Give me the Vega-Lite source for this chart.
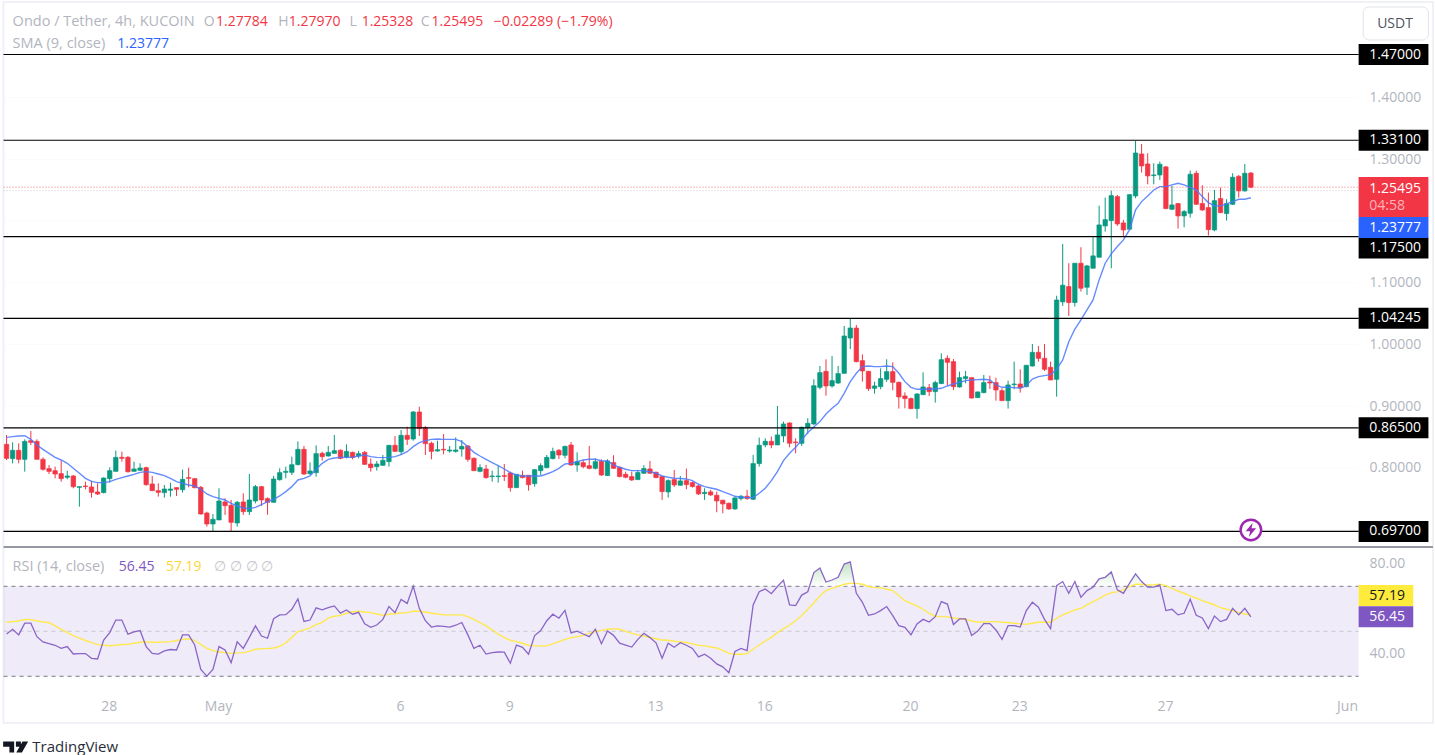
{"$schema":"https://vega.github.io/schema/vega-lite/v6.json","width":1435,"height":755,"padding":0,"autosize":"none","background":"white","config":{"view":{"stroke":null},"text":{"font":"Open Sans","fontSize":14}},
"datasets":{"candles":[
{"t":"2024-04-25T04:00Z","o":0.8382,"h":0.8533,"l":0.8128,"c":0.8155,"s":0.8495,"r":48.8,"m":54.0},
{"t":"2024-04-25T08:00Z","o":0.8150,"h":0.8414,"l":0.8074,"c":0.8285,"s":0.8506,"r":50.9,"m":54.3},
{"t":"2024-04-25T12:00Z","o":0.8285,"h":0.8398,"l":0.8074,"c":0.8139,"s":0.8517,"r":48.4,"m":54.6},
{"t":"2024-04-25T16:00Z","o":0.8139,"h":0.8463,"l":0.7939,"c":0.8430,"s":0.8522,"r":53.6,"m":55.3},
{"t":"2024-04-25T20:00Z","o":0.8441,"h":0.8598,"l":0.8371,"c":0.8414,"s":0.8463,"r":53.6,"m":55.2},
{"t":"2024-04-26T00:00Z","o":0.8430,"h":0.8463,"l":0.8139,"c":0.8139,"s":0.8371,"r":47.6,"m":54.7},
{"t":"2024-04-26T04:00Z","o":0.8139,"h":0.8171,"l":0.7955,"c":0.7977,"s":0.8301,"r":45.3,"m":54.1},
{"t":"2024-04-26T08:00Z","o":0.7988,"h":0.8047,"l":0.7901,"c":0.7944,"s":0.8236,"r":44.5,"m":53.9},
{"t":"2024-04-26T12:00Z","o":0.7955,"h":0.8020,"l":0.7831,"c":0.7901,"s":0.8171,"r":43.8,"m":52.4},
{"t":"2024-04-26T16:00Z","o":0.7907,"h":0.8117,"l":0.7777,"c":0.7826,"s":0.8128,"r":42.4,"m":50.9},
{"t":"2024-04-26T20:00Z","o":0.7847,"h":0.7955,"l":0.7815,"c":0.7869,"s":0.8074,"r":43.2,"m":49.4},
{"t":"2024-04-27T00:00Z","o":0.7869,"h":0.7885,"l":0.7669,"c":0.7696,"s":0.7993,"r":39.9,"m":48.1},
{"t":"2024-04-27T04:00Z","o":0.7685,"h":0.7696,"l":0.7372,"c":0.7696,"s":0.7912,"r":40.1,"m":47.0},
{"t":"2024-04-27T08:00Z","o":0.7707,"h":0.7777,"l":0.7653,"c":0.7696,"s":0.7831,"r":40.1,"m":45.9},
{"t":"2024-04-27T12:00Z","o":0.7691,"h":0.7793,"l":0.7518,"c":0.7604,"s":0.7782,"r":38.0,"m":45.0},
{"t":"2024-04-27T16:00Z","o":0.7610,"h":0.7750,"l":0.7561,"c":0.7577,"s":0.7761,"r":37.7,"m":44.1},
{"t":"2024-04-27T20:00Z","o":0.7599,"h":0.7847,"l":0.7588,"c":0.7836,"s":0.7761,"r":46.1,"m":43.8},
{"t":"2024-04-28T00:00Z","o":0.7826,"h":0.8009,"l":0.7761,"c":0.7955,"s":0.7777,"r":49.4,"m":43.6},
{"t":"2024-04-28T04:00Z","o":0.7944,"h":0.8279,"l":0.7944,"c":0.8171,"s":0.7815,"r":55.0,"m":43.8},
{"t":"2024-04-28T08:00Z","o":0.8171,"h":0.8263,"l":0.8101,"c":0.8155,"s":0.7842,"r":55.0,"m":44.1},
{"t":"2024-04-28T12:00Z","o":0.8171,"h":0.8193,"l":0.7923,"c":0.7939,"s":0.7869,"r":48.7,"m":44.2},
{"t":"2024-04-28T16:00Z","o":0.7944,"h":0.8101,"l":0.7944,"c":0.7982,"s":0.7896,"r":49.7,"m":44.7},
{"t":"2024-04-28T20:00Z","o":0.7961,"h":0.8074,"l":0.7955,"c":0.7998,"s":0.7928,"r":50.3,"m":45.1},
{"t":"2024-04-29T00:00Z","o":0.8004,"h":0.8020,"l":0.7712,"c":0.7728,"s":0.7939,"r":43.2,"m":45.3},
{"t":"2024-04-29T04:00Z","o":0.7739,"h":0.7869,"l":0.7631,"c":0.7631,"s":0.7928,"r":40.2,"m":45.1},
{"t":"2024-04-29T08:00Z","o":0.7631,"h":0.7750,"l":0.7534,"c":0.7604,"s":0.7901,"r":39.9,"m":45.1},
{"t":"2024-04-29T12:00Z","o":0.7599,"h":0.7723,"l":0.7518,"c":0.7658,"s":0.7874,"r":41.3,"m":45.3},
{"t":"2024-04-29T16:00Z","o":0.7637,"h":0.7761,"l":0.7534,"c":0.7658,"s":0.7831,"r":41.9,"m":45.4},
{"t":"2024-04-29T20:00Z","o":0.7680,"h":0.7685,"l":0.7545,"c":0.7653,"s":0.7777,"r":41.7,"m":45.9},
{"t":"2024-04-30T00:00Z","o":0.7647,"h":0.7971,"l":0.7599,"c":0.7815,"s":0.7750,"r":48.4,"m":46.4},
{"t":"2024-04-30T04:00Z","o":0.7842,"h":0.8004,"l":0.7685,"c":0.7831,"s":0.7723,"r":48.4,"m":46.7},
{"t":"2024-04-30T08:00Z","o":0.7826,"h":0.7831,"l":0.7669,"c":0.7680,"s":0.7707,"r":43.9,"m":45.9},
{"t":"2024-04-30T12:00Z","o":0.7685,"h":0.7707,"l":0.7242,"c":0.7253,"s":0.7653,"r":33.1,"m":44.2},
{"t":"2024-04-30T16:00Z","o":0.7269,"h":0.7291,"l":0.7048,"c":0.7091,"s":0.7577,"r":30.1,"m":42.4},
{"t":"2024-04-30T20:00Z","o":0.7091,"h":0.7253,"l":0.6967,"c":0.7167,"s":0.7534,"r":33.1,"m":41.4},
{"t":"2024-05-01T00:00Z","o":0.7156,"h":0.7669,"l":0.7156,"c":0.7464,"s":0.7507,"r":43.2,"m":40.8},
{"t":"2024-05-01T04:00Z","o":0.7448,"h":0.7507,"l":0.7237,"c":0.7388,"s":0.7480,"r":41.7,"m":40.5},
{"t":"2024-05-01T08:00Z","o":0.7394,"h":0.7480,"l":0.6967,"c":0.7118,"s":0.7426,"r":36.1,"m":40.2},
{"t":"2024-05-01T12:00Z","o":0.7107,"h":0.7464,"l":0.7048,"c":0.7442,"s":0.7383,"r":45.3,"m":40.4},
{"t":"2024-05-01T16:00Z","o":0.7448,"h":0.7588,"l":0.7237,"c":0.7291,"s":0.7350,"r":42.4,"m":40.5},
{"t":"2024-05-01T20:00Z","o":0.7291,"h":0.7901,"l":0.7237,"c":0.7480,"s":0.7340,"r":47.3,"m":41.1},
{"t":"2024-05-02T00:00Z","o":0.7464,"h":0.7723,"l":0.7426,"c":0.7696,"s":0.7361,"r":52.4,"m":42.0},
{"t":"2024-05-02T04:00Z","o":0.7696,"h":0.7707,"l":0.7383,"c":0.7480,"s":0.7404,"r":47.9,"m":42.3},
{"t":"2024-05-02T08:00Z","o":0.7502,"h":0.7523,"l":0.7240,"c":0.7442,"s":0.7453,"r":46.9,"m":42.3},
{"t":"2024-05-02T12:00Z","o":0.7442,"h":0.7869,"l":0.7442,"c":0.7820,"s":0.7491,"r":55.6,"m":42.6},
{"t":"2024-05-02T16:00Z","o":0.7809,"h":0.7993,"l":0.7793,"c":0.7923,"s":0.7545,"r":57.3,"m":43.3},
{"t":"2024-05-02T20:00Z","o":0.7928,"h":0.8020,"l":0.7831,"c":0.7944,"s":0.7615,"r":57.4,"m":44.8},
{"t":"2024-05-03T00:00Z","o":0.7928,"h":0.8182,"l":0.7885,"c":0.8052,"s":0.7696,"r":59.8,"m":47.3},
{"t":"2024-05-03T04:00Z","o":0.8052,"h":0.8430,"l":0.8042,"c":0.8301,"s":0.7804,"r":64.4,"m":49.9},
{"t":"2024-05-03T08:00Z","o":0.8301,"h":0.8355,"l":0.7885,"c":0.7901,"s":0.7831,"r":54.4,"m":50.6},
{"t":"2024-05-03T12:00Z","o":0.7907,"h":0.8090,"l":0.7885,"c":0.7950,"s":0.7869,"r":55.0,"m":51.5},
{"t":"2024-05-03T16:00Z","o":0.7923,"h":0.8366,"l":0.7858,"c":0.8231,"s":0.7977,"r":60.4,"m":53.0},
{"t":"2024-05-03T20:00Z","o":0.8236,"h":0.8263,"l":0.8117,"c":0.8182,"s":0.8074,"r":59.5,"m":54.0},
{"t":"2024-05-04T00:00Z","o":0.8193,"h":0.8355,"l":0.8182,"c":0.8252,"s":0.8139,"r":60.5,"m":55.9},
{"t":"2024-05-04T04:00Z","o":0.8236,"h":0.8533,"l":0.8236,"c":0.8279,"s":0.8160,"r":61.3,"m":56.7},
{"t":"2024-05-04T08:00Z","o":0.8285,"h":0.8301,"l":0.8139,"c":0.8155,"s":0.8171,"r":58.1,"m":57.1},
{"t":"2024-05-04T12:00Z","o":0.8177,"h":0.8382,"l":0.8155,"c":0.8268,"s":0.8171,"r":59.5,"m":58.0},
{"t":"2024-05-04T16:00Z","o":0.8252,"h":0.8263,"l":0.8139,"c":0.8171,"s":0.8171,"r":57.6,"m":58.6},
{"t":"2024-05-04T20:00Z","o":0.8193,"h":0.8274,"l":0.8155,"c":0.8231,"s":0.8193,"r":58.4,"m":58.9},
{"t":"2024-05-05T00:00Z","o":0.8252,"h":0.8274,"l":0.8047,"c":0.8058,"s":0.8209,"r":53.3,"m":58.6},
{"t":"2024-05-05T04:00Z","o":0.8063,"h":0.8155,"l":0.7939,"c":0.8004,"s":0.8182,"r":51.8,"m":58.3},
{"t":"2024-05-05T08:00Z","o":0.8020,"h":0.8112,"l":0.7955,"c":0.8063,"s":0.8171,"r":52.8,"m":57.7},
{"t":"2024-05-05T12:00Z","o":0.8042,"h":0.8209,"l":0.8031,"c":0.8123,"s":0.8166,"r":55.3,"m":57.1},
{"t":"2024-05-05T16:00Z","o":0.8101,"h":0.8371,"l":0.8020,"c":0.8366,"s":0.8171,"r":61.0,"m":57.6},
{"t":"2024-05-05T20:00Z","o":0.8366,"h":0.8517,"l":0.8263,"c":0.8268,"s":0.8182,"r":58.3,"m":57.9},
{"t":"2024-05-06T00:00Z","o":0.8263,"h":0.8614,"l":0.8209,"c":0.8528,"s":0.8214,"r":64.2,"m":58.1},
{"t":"2024-05-06T04:00Z","o":0.8528,"h":0.8668,"l":0.8371,"c":0.8463,"s":0.8263,"r":62.4,"m":58.3},
{"t":"2024-05-06T08:00Z","o":0.8468,"h":0.8922,"l":0.8441,"c":0.8906,"s":0.8344,"r":70.1,"m":58.9},
{"t":"2024-05-06T12:00Z","o":0.8906,"h":0.8992,"l":0.8517,"c":0.8636,"s":0.8409,"r":60.2,"m":58.9},
{"t":"2024-05-06T16:00Z","o":0.8652,"h":0.8679,"l":0.8209,"c":0.8393,"s":0.8441,"r":54.7,"m":58.6},
{"t":"2024-05-06T20:00Z","o":0.8398,"h":0.8425,"l":0.8139,"c":0.8268,"s":0.8463,"r":51.9,"m":58.0},
{"t":"2024-05-07T00:00Z","o":0.8274,"h":0.8441,"l":0.8263,"c":0.8295,"s":0.8468,"r":52.4,"m":57.7},
{"t":"2024-05-07T04:00Z","o":0.8301,"h":0.8549,"l":0.8220,"c":0.8290,"s":0.8463,"r":52.2,"m":57.3},
{"t":"2024-05-07T08:00Z","o":0.8274,"h":0.8355,"l":0.8247,"c":0.8290,"s":0.8463,"r":51.9,"m":57.3},
{"t":"2024-05-07T12:00Z","o":0.8268,"h":0.8495,"l":0.8247,"c":0.8290,"s":0.8463,"r":52.7,"m":57.3},
{"t":"2024-05-07T16:00Z","o":0.8306,"h":0.8452,"l":0.8182,"c":0.8349,"s":0.8425,"r":53.9,"m":57.3},
{"t":"2024-05-07T20:00Z","o":0.8355,"h":0.8371,"l":0.8101,"c":0.8139,"s":0.8344,"r":48.4,"m":56.5},
{"t":"2024-05-08T00:00Z","o":0.8155,"h":0.8171,"l":0.7950,"c":0.7955,"s":0.8252,"r":42.4,"m":55.3},
{"t":"2024-05-08T04:00Z","o":0.7944,"h":0.8058,"l":0.7928,"c":0.8004,"s":0.8193,"r":43.8,"m":53.9},
{"t":"2024-05-08T08:00Z","o":0.7982,"h":0.8047,"l":0.7826,"c":0.7842,"s":0.8139,"r":39.9,"m":52.4},
{"t":"2024-05-08T12:00Z","o":0.7858,"h":0.7955,"l":0.7777,"c":0.7869,"s":0.8085,"r":40.5,"m":50.6},
{"t":"2024-05-08T16:00Z","o":0.7858,"h":0.8036,"l":0.7761,"c":0.7869,"s":0.8036,"r":40.8,"m":48.7},
{"t":"2024-05-08T20:00Z","o":0.7874,"h":0.8063,"l":0.7788,"c":0.7863,"s":0.7982,"r":40.7,"m":47.2},
{"t":"2024-05-09T00:00Z","o":0.7917,"h":0.7939,"l":0.7615,"c":0.7680,"s":0.7923,"r":35.8,"m":46.0},
{"t":"2024-05-09T04:00Z","o":0.7680,"h":0.7901,"l":0.7680,"c":0.7896,"s":0.7885,"r":43.9,"m":45.4},
{"t":"2024-05-09T08:00Z","o":0.7880,"h":0.7955,"l":0.7831,"c":0.7842,"s":0.7869,"r":42.9,"m":44.7},
{"t":"2024-05-09T12:00Z","o":0.7880,"h":0.7885,"l":0.7631,"c":0.7728,"s":0.7869,"r":39.8,"m":43.8},
{"t":"2024-05-09T16:00Z","o":0.7745,"h":0.7982,"l":0.7696,"c":0.7971,"s":0.7869,"r":48.1,"m":43.5},
{"t":"2024-05-09T20:00Z","o":0.7955,"h":0.8074,"l":0.7885,"c":0.8036,"s":0.7869,"r":50.3,"m":43.5},
{"t":"2024-05-10T00:00Z","o":0.8004,"h":0.8209,"l":0.7993,"c":0.8171,"s":0.7901,"r":54.7,"m":43.5},
{"t":"2024-05-10T04:00Z","o":0.8150,"h":0.8328,"l":0.8139,"c":0.8268,"s":0.7939,"r":57.6,"m":44.4},
{"t":"2024-05-10T08:00Z","o":0.8285,"h":0.8306,"l":0.8144,"c":0.8209,"s":0.7993,"r":55.8,"m":45.4},
{"t":"2024-05-10T12:00Z","o":0.8204,"h":0.8360,"l":0.8155,"c":0.8349,"s":0.8063,"r":59.3,"m":46.4},
{"t":"2024-05-10T16:00Z","o":0.8371,"h":0.8420,"l":0.8036,"c":0.8047,"s":0.8074,"r":49.3,"m":47.2},
{"t":"2024-05-10T20:00Z","o":0.8047,"h":0.8252,"l":0.7939,"c":0.8101,"s":0.8101,"r":50.1,"m":47.6},
{"t":"2024-05-11T00:00Z","o":0.8085,"h":0.8128,"l":0.7993,"c":0.8020,"s":0.8128,"r":48.8,"m":48.2},
{"t":"2024-05-11T04:00Z","o":0.8036,"h":0.8355,"l":0.7977,"c":0.7993,"s":0.8139,"r":47.6,"m":49.1},
{"t":"2024-05-11T08:00Z","o":0.7993,"h":0.8155,"l":0.7977,"c":0.8101,"s":0.8139,"r":50.9,"m":49.9},
{"t":"2024-05-11T12:00Z","o":0.8106,"h":0.8139,"l":0.7869,"c":0.7885,"s":0.8117,"r":44.5,"m":50.4},
{"t":"2024-05-11T16:00Z","o":0.7875,"h":0.8140,"l":0.7870,"c":0.8113,"s":0.8113,"r":50.1,"m":50.9},
{"t":"2024-05-11T20:00Z","o":0.8086,"h":0.8205,"l":0.7983,"c":0.7994,"s":0.8048,"r":48.2,"m":51.2},
{"t":"2024-05-12T00:00Z","o":0.8010,"h":0.8021,"l":0.7848,"c":0.7859,"s":0.8010,"r":44.7,"m":50.9},
{"t":"2024-05-12T04:00Z","o":0.7897,"h":0.7940,"l":0.7832,"c":0.7848,"s":0.7978,"r":43.9,"m":50.0},
{"t":"2024-05-12T08:00Z","o":0.7859,"h":0.7940,"l":0.7789,"c":0.7805,"s":0.7956,"r":43.0,"m":49.1},
{"t":"2024-05-12T12:00Z","o":0.7810,"h":0.7967,"l":0.7805,"c":0.7924,"s":0.7956,"r":46.4,"m":48.4},
{"t":"2024-05-12T16:00Z","o":0.7913,"h":0.8043,"l":0.7902,"c":0.7989,"s":0.7951,"r":49.1,"m":47.9},
{"t":"2024-05-12T20:00Z","o":0.7983,"h":0.8113,"l":0.7902,"c":0.7913,"s":0.7940,"r":47.2,"m":47.3},
{"t":"2024-05-13T00:00Z","o":0.7929,"h":0.7940,"l":0.7832,"c":0.7843,"s":0.7913,"r":44.9,"m":46.7},
{"t":"2024-05-13T04:00Z","o":0.7859,"h":0.7870,"l":0.7481,"c":0.7616,"s":0.7870,"r":38.0,"m":46.1},
{"t":"2024-05-13T08:00Z","o":0.7611,"h":0.7816,"l":0.7519,"c":0.7794,"s":0.7848,"r":44.7,"m":46.0},
{"t":"2024-05-13T12:00Z","o":0.7810,"h":0.7967,"l":0.7692,"c":0.7724,"s":0.7832,"r":42.9,"m":45.6},
{"t":"2024-05-13T16:00Z","o":0.7719,"h":0.7870,"l":0.7713,"c":0.7789,"s":0.7827,"r":44.9,"m":45.3},
{"t":"2024-05-13T20:00Z","o":0.7794,"h":0.7989,"l":0.7654,"c":0.7729,"s":0.7821,"r":43.8,"m":45.0},
{"t":"2024-05-14T00:00Z","o":0.7762,"h":0.7778,"l":0.7681,"c":0.7697,"s":0.7794,"r":42.4,"m":44.4},
{"t":"2024-05-14T04:00Z","o":0.7708,"h":0.7724,"l":0.7562,"c":0.7578,"s":0.7735,"r":38.6,"m":43.8},
{"t":"2024-05-14T08:00Z","o":0.7584,"h":0.7670,"l":0.7481,"c":0.7605,"s":0.7697,"r":39.8,"m":43.5},
{"t":"2024-05-14T12:00Z","o":0.7611,"h":0.7643,"l":0.7546,"c":0.7562,"s":0.7675,"r":38.0,"m":43.0},
{"t":"2024-05-14T16:00Z","o":0.7557,"h":0.7616,"l":0.7281,"c":0.7465,"s":0.7654,"r":35.5,"m":42.6},
{"t":"2024-05-14T20:00Z","o":0.7476,"h":0.7481,"l":0.7265,"c":0.7416,"s":0.7616,"r":34.2,"m":41.5},
{"t":"2024-05-15T00:00Z","o":0.7427,"h":0.7438,"l":0.7319,"c":0.7335,"s":0.7578,"r":31.6,"m":40.2},
{"t":"2024-05-15T04:00Z","o":0.7335,"h":0.7535,"l":0.7319,"c":0.7513,"s":0.7540,"r":41.0,"m":39.8},
{"t":"2024-05-15T08:00Z","o":0.7503,"h":0.7562,"l":0.7470,"c":0.7540,"s":0.7524,"r":42.4,"m":39.8},
{"t":"2024-05-15T12:00Z","o":0.7540,"h":0.7643,"l":0.7481,"c":0.7503,"s":0.7519,"r":41.4,"m":40.1},
{"t":"2024-05-15T16:00Z","o":0.7492,"h":0.8210,"l":0.7481,"c":0.8070,"s":0.7519,"r":61.7,"m":42.0},
{"t":"2024-05-15T20:00Z","o":0.8070,"h":0.8491,"l":0.8021,"c":0.8367,"s":0.7589,"r":67.6,"m":43.9},
{"t":"2024-05-16T00:00Z","o":0.8372,"h":0.8480,"l":0.8334,"c":0.8431,"s":0.7670,"r":68.8,"m":45.7},
{"t":"2024-05-16T04:00Z","o":0.8431,"h":0.8507,"l":0.8318,"c":0.8372,"s":0.7794,"r":66.7,"m":47.3},
{"t":"2024-05-16T08:00Z","o":0.8372,"h":0.9004,"l":0.8372,"c":0.8534,"s":0.7940,"r":69.9,"m":49.4},
{"t":"2024-05-16T12:00Z","o":0.8518,"h":0.8750,"l":0.8415,"c":0.8712,"s":0.8118,"r":72.7,"m":51.2},
{"t":"2024-05-16T16:00Z","o":0.8728,"h":0.8739,"l":0.8334,"c":0.8399,"s":0.8237,"r":61.7,"m":52.8},
{"t":"2024-05-16T20:00Z","o":0.8421,"h":0.8480,"l":0.8237,"c":0.8410,"s":0.8334,"r":61.4,"m":54.7},
{"t":"2024-05-17T00:00Z","o":0.8399,"h":0.8669,"l":0.8356,"c":0.8658,"s":0.8453,"r":66.1,"m":57.0},
{"t":"2024-05-17T04:00Z","o":0.8653,"h":0.8804,"l":0.8550,"c":0.8723,"s":0.8572,"r":67.6,"m":59.8},
{"t":"2024-05-17T08:00Z","o":0.8712,"h":0.9436,"l":0.8695,"c":0.9332,"s":0.8663,"r":76.1,"m":62.7},
{"t":"2024-05-17T12:00Z","o":0.9306,"h":0.9652,"l":0.9274,"c":0.9544,"s":0.8750,"r":78.1,"m":65.7},
{"t":"2024-05-17T16:00Z","o":0.9565,"h":0.9760,"l":0.9171,"c":0.9328,"s":0.8874,"r":71.9,"m":68.1},
{"t":"2024-05-17T20:00Z","o":0.9328,"h":0.9814,"l":0.9301,"c":0.9414,"s":0.8966,"r":72.8,"m":69.1},
{"t":"2024-05-18T00:00Z","o":0.9376,"h":0.9652,"l":0.9360,"c":0.9528,"s":0.9047,"r":74.0,"m":70.0},
{"t":"2024-05-18T04:00Z","o":0.9533,"h":1.0300,"l":0.9533,"c":1.0138,"s":0.9209,"r":79.9,"m":70.9},
{"t":"2024-05-18T08:00Z","o":1.0105,"h":1.0424,"l":0.9927,"c":1.0267,"s":0.9398,"r":80.9,"m":71.3},
{"t":"2024-05-18T12:00Z","o":1.0267,"h":1.0316,"l":0.9711,"c":0.9722,"s":0.9533,"r":66.9,"m":71.3},
{"t":"2024-05-18T16:00Z","o":0.9738,"h":0.9841,"l":0.9398,"c":0.9571,"s":0.9641,"r":62.9,"m":70.9},
{"t":"2024-05-18T20:00Z","o":0.9565,"h":0.9571,"l":0.9247,"c":0.9285,"s":0.9652,"r":57.1,"m":69.9},
{"t":"2024-05-19T00:00Z","o":0.9290,"h":0.9398,"l":0.9204,"c":0.9328,"s":0.9641,"r":57.7,"m":69.4},
{"t":"2024-05-19T04:00Z","o":0.9317,"h":0.9614,"l":0.9274,"c":0.9447,"s":0.9641,"r":59.2,"m":69.3},
{"t":"2024-05-19T08:00Z","o":0.9436,"h":0.9760,"l":0.9393,"c":0.9560,"s":0.9652,"r":61.0,"m":68.7},
{"t":"2024-05-19T12:00Z","o":0.9560,"h":0.9711,"l":0.9258,"c":0.9387,"s":0.9641,"r":57.0,"m":68.1},
{"t":"2024-05-19T16:00Z","o":0.9387,"h":0.9398,"l":0.8961,"c":0.9150,"s":0.9533,"r":52.5,"m":65.9},
{"t":"2024-05-19T20:00Z","o":0.9166,"h":0.9225,"l":0.8966,"c":0.9123,"s":0.9398,"r":51.8,"m":63.6},
{"t":"2024-05-20T00:00Z","o":0.9123,"h":0.9139,"l":0.8955,"c":0.8961,"s":0.9306,"r":48.4,"m":62.4},
{"t":"2024-05-20T04:00Z","o":0.8961,"h":0.9209,"l":0.8799,"c":0.9198,"s":0.9274,"r":53.3,"m":61.3},
{"t":"2024-05-20T08:00Z","o":0.9187,"h":0.9549,"l":0.9182,"c":0.9312,"s":0.9274,"r":55.3,"m":59.8},
{"t":"2024-05-20T12:00Z","o":0.9301,"h":0.9360,"l":0.9166,"c":0.9236,"s":0.9279,"r":54.1,"m":58.0},
{"t":"2024-05-20T16:00Z","o":0.9236,"h":0.9414,"l":0.9058,"c":0.9382,"s":0.9279,"r":56.5,"m":56.7},
{"t":"2024-05-20T20:00Z","o":0.9366,"h":0.9857,"l":0.9360,"c":0.9754,"s":0.9290,"r":63.2,"m":56.5},
{"t":"2024-05-21T00:00Z","o":0.9776,"h":0.9825,"l":0.9333,"c":0.9711,"s":0.9328,"r":62.1,"m":56.4},
{"t":"2024-05-21T04:00Z","o":0.9722,"h":0.9765,"l":0.9263,"c":0.9317,"s":0.9360,"r":53.0,"m":55.9},
{"t":"2024-05-21T08:00Z","o":0.9312,"h":0.9560,"l":0.9301,"c":0.9463,"s":0.9387,"r":55.5,"m":55.6},
{"t":"2024-05-21T12:00Z","o":0.9447,"h":0.9571,"l":0.9371,"c":0.9479,"s":0.9414,"r":55.5,"m":55.3},
{"t":"2024-05-21T16:00Z","o":0.9463,"h":0.9463,"l":0.9123,"c":0.9133,"s":0.9425,"r":48.1,"m":54.6},
{"t":"2024-05-21T20:00Z","o":0.9139,"h":0.9236,"l":0.9139,"c":0.9231,"s":0.9430,"r":50.1,"m":54.1},
{"t":"2024-05-22T00:00Z","o":0.9220,"h":0.9506,"l":0.9209,"c":0.9382,"s":0.9436,"r":53.4,"m":54.1},
{"t":"2024-05-22T04:00Z","o":0.9393,"h":0.9495,"l":0.9279,"c":0.9376,"s":0.9425,"r":53.4,"m":54.3},
{"t":"2024-05-22T08:00Z","o":0.9382,"h":0.9463,"l":0.9090,"c":0.9263,"s":0.9344,"r":50.6,"m":54.3},
{"t":"2024-05-22T12:00Z","o":0.9252,"h":0.9290,"l":0.9090,"c":0.9090,"s":0.9306,"r":46.4,"m":54.0},
{"t":"2024-05-22T16:00Z","o":0.9090,"h":0.9414,"l":0.8961,"c":0.9344,"s":0.9306,"r":52.5,"m":53.9},
{"t":"2024-05-22T20:00Z","o":0.9349,"h":0.9722,"l":0.9274,"c":0.9360,"s":0.9301,"r":52.5,"m":53.6},
{"t":"2024-05-23T00:00Z","o":0.9360,"h":0.9598,"l":0.9220,"c":0.9301,"s":0.9290,"r":51.9,"m":53.3},
{"t":"2024-05-23T04:00Z","o":0.9317,"h":0.9668,"l":0.9306,"c":0.9663,"s":0.9333,"r":59.2,"m":53.1},
{"t":"2024-05-23T08:00Z","o":0.9652,"h":1.0008,"l":0.9641,"c":0.9873,"s":0.9441,"r":62.9,"m":53.6},
{"t":"2024-05-23T12:00Z","o":0.9873,"h":0.9976,"l":0.9722,"c":0.9776,"s":0.9479,"r":60.7,"m":54.0},
{"t":"2024-05-23T16:00Z","o":0.9776,"h":1.0008,"l":0.9571,"c":0.9598,"s":0.9495,"r":55.3,"m":54.0},
{"t":"2024-05-23T20:00Z","o":0.9630,"h":0.9722,"l":0.9425,"c":0.9425,"s":0.9511,"r":51.2,"m":54.0},
{"t":"2024-05-24T00:00Z","o":0.9436,"h":1.0791,"l":0.9155,"c":1.0721,"s":0.9598,"r":70.3,"m":55.8},
{"t":"2024-05-24T04:00Z","o":1.0691,"h":1.1630,"l":1.0626,"c":1.0961,"s":0.9749,"r":72.1,"m":57.3},
{"t":"2024-05-24T08:00Z","o":1.0939,"h":1.1317,"l":1.0464,"c":1.0680,"s":1.0046,"r":66.9,"m":58.4},
{"t":"2024-05-24T12:00Z","o":1.0680,"h":1.1317,"l":1.0615,"c":1.1317,"s":1.0248,"r":72.1,"m":59.5},
{"t":"2024-05-24T16:00Z","o":1.1317,"h":1.1576,"l":1.0858,"c":1.0912,"s":1.0399,"r":65.1,"m":60.2},
{"t":"2024-05-24T20:00Z","o":1.0928,"h":1.1290,"l":1.0804,"c":1.1274,"s":1.0561,"r":68.1,"m":61.7},
{"t":"2024-05-25T00:00Z","o":1.1236,"h":1.1738,"l":1.1236,"c":1.1436,"s":1.0723,"r":69.6,"m":63.2},
{"t":"2024-05-25T04:00Z","o":1.1414,"h":1.2251,"l":1.1414,"c":1.1938,"s":1.1047,"r":73.3,"m":64.5},
{"t":"2024-05-25T08:00Z","o":1.1922,"h":1.2381,"l":1.1830,"c":1.2024,"s":1.1317,"r":74.0,"m":66.1},
{"t":"2024-05-25T12:00Z","o":1.2008,"h":1.2494,"l":1.1236,"c":1.2413,"s":1.1468,"r":76.4,"m":67.2},
{"t":"2024-05-25T16:00Z","o":1.2397,"h":1.2424,"l":1.1922,"c":1.1954,"s":1.1587,"r":68.4,"m":67.5},
{"t":"2024-05-25T20:00Z","o":1.1970,"h":1.2019,"l":1.1760,"c":1.1857,"s":1.1695,"r":66.9,"m":68.4},
{"t":"2024-05-26T00:00Z","o":1.1868,"h":1.2429,"l":1.1868,"c":1.2429,"s":1.1857,"r":71.3,"m":69.9},
{"t":"2024-05-26T04:00Z","o":1.2408,"h":1.3299,"l":1.2370,"c":1.3104,"s":1.2181,"r":75.5,"m":70.9},
{"t":"2024-05-26T08:00Z","o":1.3088,"h":1.3250,"l":1.2786,"c":1.2894,"s":1.2316,"r":72.1,"m":70.9},
{"t":"2024-05-26T12:00Z","o":1.2926,"h":1.3099,"l":1.2597,"c":1.2732,"s":1.2408,"r":69.6,"m":70.6},
{"t":"2024-05-26T16:00Z","o":1.2737,"h":1.2937,"l":1.2597,"c":1.2748,"s":1.2505,"r":69.6,"m":70.7},
{"t":"2024-05-26T20:00Z","o":1.2748,"h":1.2964,"l":1.2667,"c":1.2921,"s":1.2559,"r":70.6,"m":70.9},
{"t":"2024-05-27T00:00Z","o":1.2878,"h":1.2894,"l":1.2192,"c":1.2203,"s":1.2559,"r":59.2,"m":70.3},
{"t":"2024-05-27T04:00Z","o":1.2192,"h":1.2570,"l":1.2181,"c":1.2262,"s":1.2586,"r":59.8,"m":69.1},
{"t":"2024-05-27T08:00Z","o":1.2284,"h":1.2289,"l":1.1879,"c":1.2084,"s":1.2613,"r":57.3,"m":67.9},
{"t":"2024-05-27T12:00Z","o":1.2084,"h":1.2181,"l":1.1900,"c":1.2154,"s":1.2586,"r":58.0,"m":66.9},
{"t":"2024-05-27T16:00Z","o":1.2127,"h":1.2818,"l":1.2057,"c":1.2759,"s":1.2548,"r":64.2,"m":65.7},
{"t":"2024-05-27T20:00Z","o":1.2775,"h":1.2818,"l":1.2262,"c":1.2273,"s":1.2505,"r":57.1,"m":64.7},
{"t":"2024-05-28T00:00Z","o":1.2284,"h":1.2581,"l":1.2165,"c":1.2181,"s":1.2397,"r":55.9,"m":63.6},
{"t":"2024-05-28T04:00Z","o":1.2219,"h":1.2462,"l":1.1765,"c":1.1862,"s":1.2300,"r":51.2,"m":62.7},
{"t":"2024-05-28T08:00Z","o":1.1857,"h":1.2505,"l":1.1835,"c":1.2332,"s":1.2246,"r":56.8,"m":61.7},
{"t":"2024-05-28T12:00Z","o":1.2365,"h":1.2543,"l":1.2127,"c":1.2138,"s":1.2246,"r":54.3,"m":60.5},
{"t":"2024-05-28T16:00Z","o":1.2122,"h":1.2354,"l":1.2008,"c":1.2284,"s":1.2278,"r":55.3,"m":59.8},
{"t":"2024-05-28T20:00Z","o":1.2273,"h":1.2775,"l":1.2262,"c":1.2710,"s":1.2316,"r":60.2,"m":59.2},
{"t":"2024-05-29T00:00Z","o":1.2726,"h":1.2748,"l":1.2381,"c":1.2489,"s":1.2354,"r":57.3,"m":58.4},
{"t":"2024-05-29T04:00Z","o":1.2489,"h":1.2926,"l":1.2478,"c":1.2775,"s":1.2354,"r":60.2,"m":57.7},
{"t":"2024-05-29T08:00Z","o":1.27784,"h":1.2797,"l":1.25328,"c":1.25495,"s":1.23777,"r":56.45,"m":57.19}
]},
"layer":[
{"layer":[
{"data":{"values":[{"level":1.4},{"level":1.3},{"level":1.2},{"level":1.1},{"level":1.0},{"level":0.9},{"level":0.8},{"level":0.7}]},"mark":{"type":"rule","color":"#fafbfc","strokeWidth":1},
"encoding":{"x":{"datum":{"year":2024,"month":5,"date":1,"hours":-142,"utc":true},"type":"temporal","title":null,"scale":{"type":"utc","padding":0,"domain":[{"year":2024,"month":5,"date":1,"hours":-144,"minutes":-19,"utc":true},{"year":2024,"month":5,"date":1,"hours":801,"minutes":20,"utc":true}]},
"axis":{"orient":"bottom","offset":-49,"domain":false,"ticks":false,"grid":false,"labelPadding":0,"labelBaseline":"middle","labelFont":"Open Sans","labelFontSize":14,"labelColor":"#b2b5be","labelOverlap":false,"labelFlush":false,"labelOffset":-1,"title":null,
"values":[{"year":2024,"month":4,"date":28,"utc":true},{"year":2024,"month":5,"date":1,"utc":true},{"year":2024,"month":5,"date":6,"utc":true},{"year":2024,"month":5,"date":9,"utc":true},{"year":2024,"month":5,"date":13,"utc":true},{"year":2024,"month":5,"date":16,"utc":true},{"year":2024,"month":5,"date":20,"utc":true},{"year":2024,"month":5,"date":23,"utc":true},{"year":2024,"month":5,"date":27,"utc":true},{"year":2024,"month":6,"date":1,"utc":true}],
"labelExpr":"utcdate(datum.value)==1?(utcmonth(datum.value)==4?'May':'Jun'):''+utcdate(datum.value)"}},
"x2":{"datum":{"year":2024,"month":5,"date":1,"hours":751,"utc":true}},
"y":{"field":"level","type":"quantitative","title":null,"scale":{"domain":[0.33468,1.55835],"nice":false,"zero":false},"axis":{"orient":"right","offset":-66,"domain":false,"ticks":false,"grid":false,"labelPadding":0,"labelAlign":"left","labelFont":"Open Sans","labelFontSize":14,"labelColor":"#b2b5be","format":".5f","title":null,"values":[1.4,1.3,1.1,1.0,0.9,0.8]}}}},
{"data":{"values":[{"d":"f"}]},"mark":{"type":"rect","filled":false,"stroke":"#eff1f7","strokeWidth":2},"encoding":{"x":{"datum":{"year":2024,"month":5,"date":1,"hours":-142,"utc":true},"type":"temporal"},"x2":{"datum":{"year":2024,"month":5,"date":1,"hours":800,"utc":true}},"y":{"datum":1.5551,"type":"quantitative"},"y2":{"datum":0.3865}}},
{"data":{"values":[{"level":0.6718}]},"mark":{"type":"rule","color":"#9598a1","strokeWidth":2},"encoding":{"x":{"datum":{"year":2024,"month":5,"date":1,"hours":-142,"utc":true},"type":"temporal"},"x2":{"datum":{"year":2024,"month":5,"date":1,"hours":800,"utc":true}},"y":{"field":"level","type":"quantitative"}}},
{"data":{"name":"candles"},"mark":{"type":"rule","strokeWidth":1},"encoding":{"x":{"field":"t","type":"temporal"},"y":{"field":"l","type":"quantitative"},"y2":{"field":"h"},"color":{"condition":{"test":"datum.c>=datum.o","value":"#089981"},"value":"#f23645"}}},
{"data":{"name":"candles"},"mark":{"type":"bar","width":4.4,"strokeWidth":0.7},"encoding":{"x":{"field":"t","type":"temporal"},"y":{"field":"o","type":"quantitative"},"y2":{"field":"c"},"color":{"condition":{"test":"datum.c>=datum.o","value":"#089981"},"value":"#f23645"},"stroke":{"condition":{"test":"datum.c>=datum.o","value":"#089981"},"value":"#f23645"}}},
{"data":{"name":"candles"},"mark":{"type":"line","color":"#4a78ff","strokeWidth":1.4,"opacity":0.85},"encoding":{"x":{"field":"t","type":"temporal"},"y":{"field":"s","type":"quantitative"}}},
{"data":{"values":[{"level":1.25495}]},"mark":{"type":"rule","color":"#f23645","strokeWidth":1,"strokeDash":[1,2],"opacity":0.7},"encoding":{"x":{"datum":{"year":2024,"month":5,"date":1,"hours":-142,"utc":true},"type":"temporal"},"x2":{"datum":{"year":2024,"month":5,"date":1,"hours":751,"utc":true}},"y":{"field":"level","type":"quantitative"}}},
{"data":{"values":[{"level":1.2493}]},"mark":{"type":"rule","color":"#9598a1","strokeWidth":1,"strokeDash":[1,2],"opacity":0.5},"encoding":{"x":{"datum":{"year":2024,"month":5,"date":1,"hours":-142,"utc":true},"type":"temporal"},"x2":{"datum":{"year":2024,"month":5,"date":1,"hours":751,"utc":true}},"y":{"field":"level","type":"quantitative"}}},
{"data":{"values":[{"level":1.47},{"level":1.331},{"level":1.175},{"level":1.04245},{"level":0.865},{"level":0.697}]},"mark":{"type":"rule","color":"#000000","strokeWidth":1.2},"encoding":{"x":{"datum":{"year":2024,"month":5,"date":1,"hours":-142,"utc":true},"type":"temporal"},"x2":{"datum":{"year":2024,"month":5,"date":1,"hours":751,"utc":true}},"y":{"field":"level","type":"quantitative"}}},
{"data":{"values":[{"tag":1.47,"label":"1.47000"},{"tag":1.331,"label":"1.33100"},{"tag":1.1565,"label":"1.17500"},{"tag":1.04245,"label":"1.04245"},{"tag":0.865,"label":"0.86500"},{"tag":0.697,"label":"0.69700"}]},"mark":{"type":"rule","color":"#000000","strokeWidth":21},"encoding":{"x":{"datum":{"year":2024,"month":5,"date":1,"hours":751,"utc":true},"type":"temporal"},"x2":{"datum":{"year":2024,"month":5,"date":1,"hours":797,"utc":true}},"y":{"field":"tag","type":"quantitative"}}},
{"data":{"values":[{"tag":1.47,"label":"1.47000"},{"tag":1.331,"label":"1.33100"},{"tag":1.1565,"label":"1.17500"},{"tag":1.04245,"label":"1.04245"},{"tag":0.865,"label":"0.86500"},{"tag":0.697,"label":"0.69700"}]},"mark":{"type":"text","color":"#ffffff","align":"left","baseline":"middle"},"encoding":{"x":{"datum":{"year":2024,"month":5,"date":1,"hours":758,"utc":true},"type":"temporal"},"y":{"field":"tag","type":"quantitative"},"text":{"field":"label"}}},
{"data":{"values":[{"tag":1.2391}]},"mark":{"type":"rule","color":"#f23645","strokeWidth":40},"encoding":{"x":{"datum":{"year":2024,"month":5,"date":1,"hours":751,"utc":true},"type":"temporal"},"x2":{"datum":{"year":2024,"month":5,"date":1,"hours":797,"utc":true}},"y":{"field":"tag","type":"quantitative"}}},
{"data":{"values":[{"tag":1.1896}]},"mark":{"type":"rule","color":"#2962ff","strokeWidth":21},"encoding":{"x":{"datum":{"year":2024,"month":5,"date":1,"hours":751,"utc":true},"type":"temporal"},"x2":{"datum":{"year":2024,"month":5,"date":1,"hours":797,"utc":true}},"y":{"field":"tag","type":"quantitative"}}},
{"data":{"values":[{"tag":1.252,"label":"1.25495"},{"tag":1.1896,"label":"1.23777"}]},"mark":{"type":"text","color":"#ffffff","align":"left","baseline":"middle"},"encoding":{"x":{"datum":{"year":2024,"month":5,"date":1,"hours":758,"utc":true},"type":"temporal"},"y":{"field":"tag","type":"quantitative"},"text":{"field":"label"}}},
{"data":{"values":[{"tag":1.2245,"label":"04:58"}]},"mark":{"type":"text","color":"#ffb3ba","align":"left","baseline":"middle"},"encoding":{"x":{"datum":{"year":2024,"month":5,"date":1,"hours":758,"utc":true},"type":"temporal"},"y":{"field":"tag","type":"quantitative"},"text":{"field":"label"}}},
{"data":{"values":[{"d":"b"}]},"mark":{"type":"rect","fill":"#ffffff","stroke":"#e0e3eb","strokeWidth":1,"cornerRadius":6},"encoding":{"x":{"datum":{"year":2024,"month":5,"date":1,"hours":754,"utc":true},"type":"temporal"},"x2":{"datum":{"year":2024,"month":5,"date":1,"hours":797,"utc":true}},"y":{"datum":1.5470,"type":"quantitative"},"y2":{"datum":1.4935}}},
{"data":{"values":[{"label":"USDT"}]},"mark":{"type":"text","color":"#50535e","align":"center","baseline":"middle","fontSize":14},"encoding":{"x":{"datum":{"year":2024,"month":5,"date":1,"hours":775,"utc":true},"type":"temporal"},"y":{"datum":1.5195,"type":"quantitative"},"text":{"field":"label"}}},
{"data":{"values":[{"d":"w"}]},"mark":{"type":"rect","fill":"#ffffff"},"encoding":{"x":{"datum":{"year":2024,"month":5,"date":1,"hours":751,"utc":true},"type":"temporal"},"x2":{"datum":{"year":2024,"month":5,"date":1,"hours":797,"utc":true}},"y":{"datum":0.42,"type":"quantitative"},"y2":{"datum":0.39}}},
{"data":{"values":[{"t":"2024-05-29T08:00Z","level":0.6994}]},"mark":{"type":"point","shape":"circle","filled":true,"fill":"#ffffff","stroke":"#9c27b0","strokeWidth":2.4,"size":420,"opacity":1},"encoding":{"x":{"field":"t","type":"temporal"},"y":{"field":"level","type":"quantitative"}}},
{"data":{"values":[{"t":"2024-05-29T08:00Z","level":0.6994}]},"mark":{"type":"point","shape":"M 0.25 -1 L -0.75 0.2 L -0.1 0.2 L -0.3 1 L 0.75 -0.25 L 0.1 -0.25 Z","filled":true,"fill":"#9c27b0","strokeWidth":0,"size":196,"opacity":1},"encoding":{"x":{"field":"t","type":"temporal"},"y":{"field":"level","type":"quantitative"}}},
{"data":{"values":[{"label":"Ondo / Tether, 4h, KUCOIN"}]},"mark":{"type":"text","color":"#b2b5be","align":"left","baseline":"middle","fontSize":14.5},"encoding":{"x":{"datum":{"year":2024,"month":5,"date":1,"hours":-136,"utc":true},"type":"temporal"},"y":{"datum":1.5227,"type":"quantitative"},"text":{"field":"label"}}},
{"data":{"values":[{"label":"SMA (9, close)"}]},"mark":{"type":"text","color":"#b2b5be","align":"left","baseline":"middle","fontSize":14.5},"encoding":{"x":{"datum":{"year":2024,"month":5,"date":1,"hours":-136,"utc":true},"type":"temporal"},"y":{"datum":1.4871,"type":"quantitative"},"text":{"field":"label"}}},
{"data":{"values":[{"label":"1.23777"}]},"mark":{"type":"text","color":"#2962ff","align":"left","baseline":"middle"},"encoding":{"x":{"datum":{"year":2024,"month":5,"date":1,"hours":-67,"utc":true},"type":"temporal"},"y":{"datum":1.4871,"type":"quantitative"},"text":{"field":"label"}}},
{"data":{"values":[{"label":"O"}]},"mark":{"type":"text","color":"#b2b5be","align":"left","baseline":"middle"},"encoding":{"x":{"datum":{"year":2024,"month":5,"date":1,"hours":-10,"utc":true},"type":"temporal"},"y":{"datum":1.5227,"type":"quantitative"},"text":{"field":"label"}}},
{"data":{"values":[{"label":"H"}]},"mark":{"type":"text","color":"#b2b5be","align":"left","baseline":"middle"},"encoding":{"x":{"datum":{"year":2024,"month":5,"date":1,"hours":39,"utc":true},"type":"temporal"},"y":{"datum":1.5227,"type":"quantitative"},"text":{"field":"label"}}},
{"data":{"values":[{"label":"L"}]},"mark":{"type":"text","color":"#b2b5be","align":"left","baseline":"middle"},"encoding":{"x":{"datum":{"year":2024,"month":5,"date":1,"hours":86,"utc":true},"type":"temporal"},"y":{"datum":1.5227,"type":"quantitative"},"text":{"field":"label"}}},
{"data":{"values":[{"label":"C"}]},"mark":{"type":"text","color":"#b2b5be","align":"left","baseline":"middle"},"encoding":{"x":{"datum":{"year":2024,"month":5,"date":1,"hours":133,"utc":true},"type":"temporal"},"y":{"datum":1.5227,"type":"quantitative"},"text":{"field":"label"}}},
{"data":{"values":[{"label":"1.27784"}]},"mark":{"type":"text","color":"#f23645","align":"left","baseline":"middle"},"encoding":{"x":{"datum":{"year":2024,"month":5,"date":1,"hours":-2,"utc":true},"type":"temporal"},"y":{"datum":1.5227,"type":"quantitative"},"text":{"field":"label"}}},
{"data":{"values":[{"label":"1.27970"}]},"mark":{"type":"text","color":"#f23645","align":"left","baseline":"middle"},"encoding":{"x":{"datum":{"year":2024,"month":5,"date":1,"hours":46,"utc":true},"type":"temporal"},"y":{"datum":1.5227,"type":"quantitative"},"text":{"field":"label"}}},
{"data":{"values":[{"label":"1.25328"}]},"mark":{"type":"text","color":"#f23645","align":"left","baseline":"middle"},"encoding":{"x":{"datum":{"year":2024,"month":5,"date":1,"hours":94,"utc":true},"type":"temporal"},"y":{"datum":1.5227,"type":"quantitative"},"text":{"field":"label"}}},
{"data":{"values":[{"label":"1.25495"}]},"mark":{"type":"text","color":"#f23645","align":"left","baseline":"middle"},"encoding":{"x":{"datum":{"year":2024,"month":5,"date":1,"hours":140,"utc":true},"type":"temporal"},"y":{"datum":1.5227,"type":"quantitative"},"text":{"field":"label"}}},
{"data":{"values":[{"label":"−0.02289 (−1.79%)"}]},"mark":{"type":"text","color":"#f23645","align":"left","baseline":"middle"},"encoding":{"x":{"datum":{"year":2024,"month":5,"date":1,"hours":181,"utc":true},"type":"temporal"},"y":{"datum":1.5227,"type":"quantitative"},"text":{"field":"label"}}},
{"data":{"values":[{"label":"TradingView"}]},"mark":{"type":"text","color":"#2a2e39","align":"left","baseline":"middle","fontSize":15},"encoding":{"x":{"datum":{"year":2024,"month":5,"date":1,"hours":-123,"utc":true},"type":"temporal"},"y":{"datum":0.3477,"type":"quantitative"},"text":{"field":"label"}}},
{"data":{"values":[{"d":"logo"}]},"mark":{"type":"point","shape":"M -1 -0.44 H -0.12 V 0.44 H -0.5 V -0.02 H -1 Z M 0.02 -0.44 H 0.42 V -0.02 H 0.02 Z M 0.55 -0.44 H 1 L 0.5 0.44 H 0.05 Z","filled":true,"fill":"#131722","strokeWidth":0,"size":625,"opacity":1},"encoding":{"x":{"datum":{"year":2024,"month":5,"date":1,"hours":-134,"utc":true},"type":"temporal"},"y":{"datum":0.3477,"type":"quantitative"}}}
]},
{"layer":[
{"data":{"values":[{"d":"band"}]},"mark":{"type":"rect","fill":"#7e57c2","opacity":0.12},"encoding":{"x":{"datum":{"year":2024,"month":5,"date":1,"hours":-142,"utc":true},"type":"temporal"},"x2":{"datum":{"year":2024,"month":5,"date":1,"hours":751,"utc":true}},"y":{"datum":70,"type":"quantitative","title":null,"scale":{"domain":[-4.98,330.58],"nice":false,"zero":false},"axis":{"orient":"right","offset":-66,"domain":false,"ticks":false,"grid":false,"labelPadding":0,"labelAlign":"left","labelFont":"Open Sans","labelFontSize":14,"labelColor":"#b2b5be","format":".2f","title":null,"values":[80,40]}},"y2":{"datum":30}}},
{"data":{"values":[{"level":70},{"level":30}]},"mark":{"type":"rule","color":"#787b86","strokeWidth":1,"strokeDash":[4,4]},"encoding":{"x":{"datum":{"year":2024,"month":5,"date":1,"hours":-142,"utc":true},"type":"temporal"},"x2":{"datum":{"year":2024,"month":5,"date":1,"hours":751,"utc":true}},"y":{"field":"level","type":"quantitative"}}},
{"data":{"values":[{"level":50}]},"mark":{"type":"rule","color":"#c8c9ce","strokeWidth":1,"strokeDash":[4,4]},"encoding":{"x":{"datum":{"year":2024,"month":5,"date":1,"hours":-142,"utc":true},"type":"temporal"},"x2":{"datum":{"year":2024,"month":5,"date":1,"hours":751,"utc":true}},"y":{"field":"level","type":"quantitative"}}},
{"data":{"values":[{"t":"2024-05-17T05:07Z","ob":70},{"t":"2024-05-17T08:00Z","ob":76.1},{"t":"2024-05-17T12:00Z","ob":78.1},{"t":"2024-05-17T16:00Z","ob":71.9},{"t":"2024-05-17T20:00Z","ob":72.8},{"t":"2024-05-18T00:00Z","ob":74.0},{"t":"2024-05-18T04:00Z","ob":79.9},{"t":"2024-05-18T08:00Z","ob":80.9},{"t":"2024-05-18T11:07Z","ob":70},{"t":"2024-05-18T12:00Z","ob":null},{"t":"2024-05-24T10:15Z","ob":70},{"t":"2024-05-24T12:00Z","ob":72.1},{"t":"2024-05-24T13:12Z","ob":70},{"t":"2024-05-24T14:00Z","ob":null},{"t":"2024-05-25T00:26Z","ob":70},{"t":"2024-05-25T04:00Z","ob":73.3},{"t":"2024-05-25T08:00Z","ob":74.0},{"t":"2024-05-25T12:00Z","ob":76.4},{"t":"2024-05-25T15:10Z","ob":70},{"t":"2024-05-25T16:00Z","ob":null},{"t":"2024-05-25T22:50Z","ob":70},{"t":"2024-05-26T00:00Z","ob":71.3},{"t":"2024-05-26T04:00Z","ob":75.5},{"t":"2024-05-26T08:00Z","ob":72.1},{"t":"2024-05-26T11:22Z","ob":70}]},"mark":{"type":"area","color":{"x1":0,"y1":0,"x2":0,"y2":1,"gradient":"linear","stops":[{"offset":0,"color":"#4caf50"},{"offset":1,"color":"#ffffff"}]},"opacity":0.35},"encoding":{"x":{"field":"t","type":"temporal"},"y":{"field":"ob","type":"quantitative"},"y2":{"datum":70}}},
{"data":{"name":"candles"},"mark":{"type":"line","color":"#ffe94d","strokeWidth":1.4},"encoding":{"x":{"field":"t","type":"temporal"},"y":{"field":"m","type":"quantitative"}}},
{"data":{"name":"candles"},"mark":{"type":"line","color":"#7e57c2","strokeWidth":1.3,"opacity":0.9},"encoding":{"x":{"field":"t","type":"temporal"},"y":{"field":"r","type":"quantitative"}}},
{"data":{"values":[{"tag":65.9}]},"mark":{"type":"rule","color":"#ffeb3b","strokeWidth":21},"encoding":{"x":{"datum":{"year":2024,"month":5,"date":1,"hours":751,"utc":true},"type":"temporal"},"x2":{"datum":{"year":2024,"month":5,"date":1,"hours":787,"utc":true}},"y":{"field":"tag","type":"quantitative"}}},
{"data":{"values":[{"tag":56.45}]},"mark":{"type":"rule","color":"#7e57c2","strokeWidth":21},"encoding":{"x":{"datum":{"year":2024,"month":5,"date":1,"hours":751,"utc":true},"type":"temporal"},"x2":{"datum":{"year":2024,"month":5,"date":1,"hours":787,"utc":true}},"y":{"field":"tag","type":"quantitative"}}},
{"data":{"values":[{"tag":65.9,"label":"57.19"}]},"mark":{"type":"text","color":"#131722","align":"left","baseline":"middle"},"encoding":{"x":{"datum":{"year":2024,"month":5,"date":1,"hours":758,"utc":true},"type":"temporal"},"y":{"field":"tag","type":"quantitative"},"text":{"field":"label"}}},
{"data":{"values":[{"tag":56.45,"label":"56.45"}]},"mark":{"type":"text","color":"#ffffff","align":"left","baseline":"middle"},"encoding":{"x":{"datum":{"year":2024,"month":5,"date":1,"hours":758,"utc":true},"type":"temporal"},"y":{"field":"tag","type":"quantitative"},"text":{"field":"label"}}},
{"data":{"values":[{"label":"RSI (14, close)"}]},"mark":{"type":"text","color":"#b2b5be","align":"left","baseline":"middle","fontSize":14.5},"encoding":{"x":{"datum":{"year":2024,"month":5,"date":1,"hours":-136,"utc":true},"type":"temporal"},"y":{"datum":78.6,"type":"quantitative"},"text":{"field":"label"}}},
{"data":{"values":[{"label":"56.45"}]},"mark":{"type":"text","color":"#7e57c2","align":"left","baseline":"middle"},"encoding":{"x":{"datum":{"year":2024,"month":5,"date":1,"hours":-66,"utc":true},"type":"temporal"},"y":{"datum":78.6,"type":"quantitative"},"text":{"field":"label"}}},
{"data":{"values":[{"label":"57.19"}]},"mark":{"type":"text","color":"#fdd835","align":"left","baseline":"middle"},"encoding":{"x":{"datum":{"year":2024,"month":5,"date":1,"hours":-35,"utc":true},"type":"temporal"},"y":{"datum":78.6,"type":"quantitative"},"text":{"field":"label"}}},
{"data":{"values":[{"label":"∅   ∅   ∅   ∅"}]},"mark":{"type":"text","color":"#c4c6cc","align":"left","baseline":"middle"},"encoding":{"x":{"datum":{"year":2024,"month":5,"date":1,"hours":-3,"utc":true},"type":"temporal"},"y":{"datum":78.6,"type":"quantitative"},"text":{"field":"label"}}}
]}
],
"resolve":{"scale":{"y":"independent"},"axis":{"y":"independent"}}
}
